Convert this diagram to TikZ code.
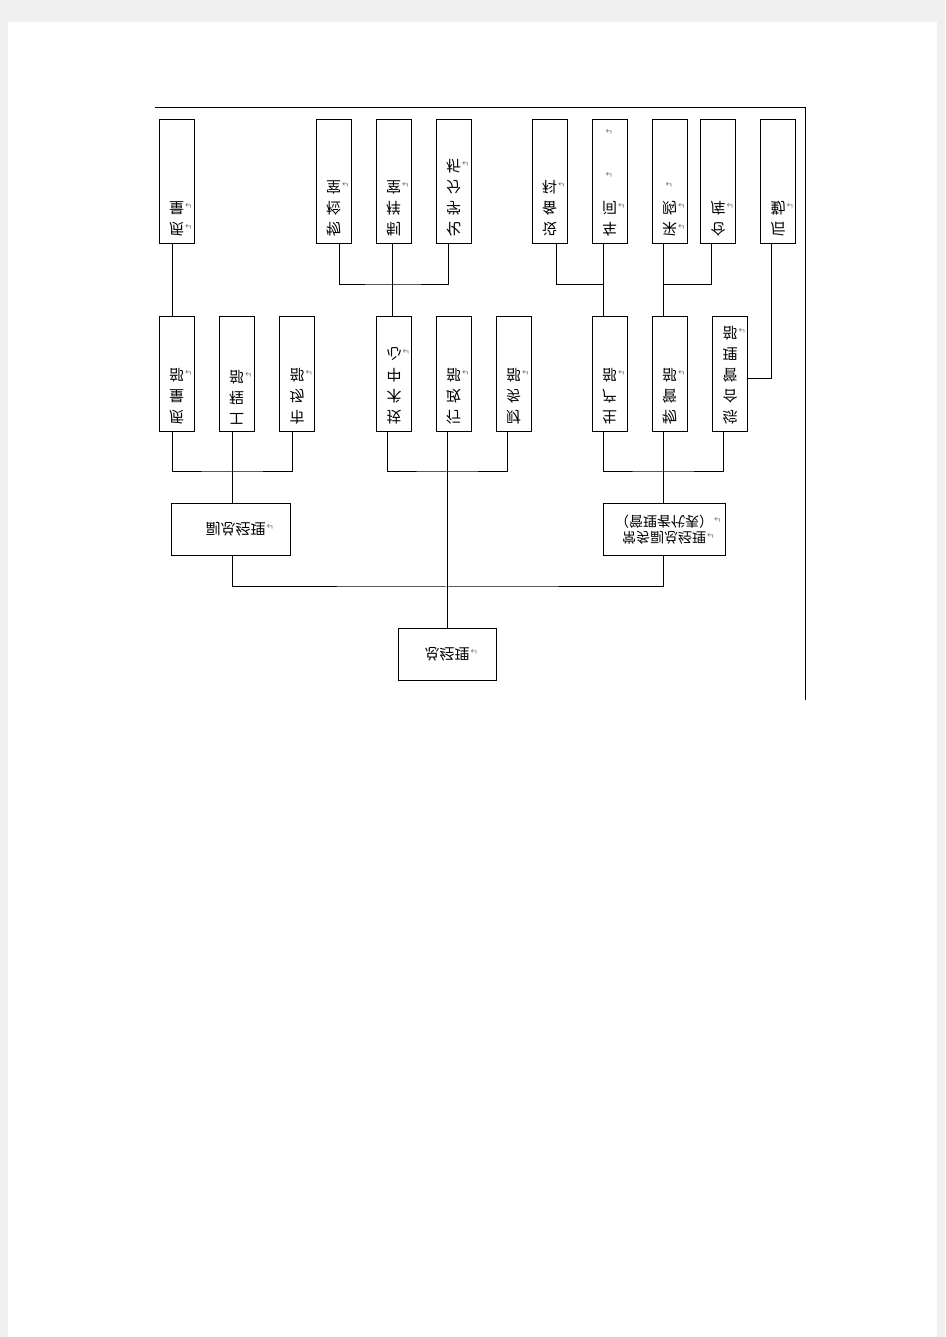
\documentclass[tikz,border=0pt]{standalone}
\usepackage{fontspec}
\newfontfamily\cjk{Noto Sans CJK SC}
\newfontfamily\symf{DejaVu Sans}

% paragraph marks and stacked text
\newcommand{\ret}{\rlap{\hspace{1pt}{\color{black!50}\symf\fontsize{9}{9}\selectfont ↵}}}
\newcommand{\eret}{\makebox[0pt]{\color{black!50}\symf\fontsize{9}{9}\selectfont ↵}}
\newcommand{\vcol}[2]{\parbox[c][#1][t]{35pt}{\centering\vspace*{8pt}#2}}

\tikzset{
  org/.style={draw, line width=1pt, inner sep=0pt, font=\cjk\fontsize{15}{21}\selectfont},
  leaf/.style={org, minimum width=35pt, minimum height=124pt},
  dept/.style={org, minimum width=35pt, minimum height=115pt},
  head/.style={org, minimum height=52pt, align=center},
  link/.style={line width=1pt}
}

\begin{document}
\begin{tikzpicture}[x=1pt, y=-1pt, yscale=-1, transform shape]
\useasboundingbox (0,0) rectangle (945,1337);
\fill[black!6] (0,0) rectangle (945,1337);
\fill[white] (8,0) rectangle (937,1315);

% page frame
\draw[link] (155,1229) -- (805,1229) -- (805,637);

% top
\node[head, minimum width=98pt] (zjl) at (447,682.5) {总经理\ret};
\node[head, minimum width=119pt] (fzjl) at (231,807.5) {\hspace*{9pt}副总经理\ret};
\node[head, minimum width=122pt, font=\cjk\fontsize{14}{15.5}\selectfont] (cwfz) at (664,807.5)
  {常务副总经理\ret\\（管理者代表）\ret};

% departments
\node[dept] (zlb) at (176.5,962.5) {\vcol{115pt}{质\\量\\部\ret}};
\node[dept] (gcb) at (236.5,962.5) {\vcol{115pt}{工\\程\\部\ret}};
\node[dept] (scb) at (297,962.5) {\vcol{115pt}{市\\场\\部\ret}};
\node[dept] (jszx) at (394,962.5) {\vcol{115pt}{技\\术\\中\\心\ret}};
\node[dept] (xzb) at (453.5,962.5) {\vcol{115pt}{行\\政\\部\ret}};
\node[dept] (cwb) at (513.5,962.5) {\vcol{115pt}{财\\务\\部\ret}};
\node[dept] (shcb) at (609.5,962.5) {\vcol{115pt}{生\\产\\部\ret}};
\node[dept] (wgb) at (669.5,962.5) {\vcol{115pt}{物\\管\\部\ret}};
\node[dept] (zhglb) at (730,962.5) {\vcol{115pt}{综\\合\\管\\理\\部\ret}};

% sections
\node[leaf] (zl) at (176.5,1155) {\vcol{124pt}{质\ret\\量\ret}};
\node[leaf] (wjs) at (333.5,1155) {\vcol{124pt}{物\\检\\室\ret}};
\node[leaf] (zys) at (393.5,1155) {\vcol{124pt}{制\\样\\室\ret}};
\node[leaf] (hxfx) at (453.5,1155) {\vcol{124pt}{化\\学\\分\\析\ret}};
\node[leaf] (sbk) at (549.5,1155) {\vcol{124pt}{设\\备\\科\ret}};
\node[leaf] (cj) at (609.5,1155) {\vcol{124pt}{车\\间\ret\\[10pt]\eret\\[22pt]\eret}};
\node[leaf] (cg) at (669.5,1155) {\vcol{124pt}{采\ret\\购\ret\\\eret}};
\node[leaf] (ck) at (718,1155) {\vcol{124pt}{仓\\库\ret}};
\node[leaf] (hq) at (778,1155) {\vcol{124pt}{后\\勤\ret}};

% bus points
\coordinate (b1) at (447,750);
\coordinate (busl) at (232,865);
\coordinate (busm) at (447,865);
\coordinate (busr) at (663,865);
\coordinate (bust) at (392,1052);
\coordinate (busp) at (603,1052);
\coordinate (busw) at (663,1052);

% connectors
\draw[link] (zjl) -- ([xshift=-6.5]xzb.north);
\draw[link] ([xshift=1]fzjl.north) |- (b1) -| ([xshift=-1]cwfz.north);
\draw[link] ([xshift=-4.5]zlb.north) |- (busl) -| ([xshift=-5]scb.north);
\draw[link] ([xshift=-4.5]gcb.north) -- ([xshift=1]fzjl.south);
\draw[link] ([xshift=-7]jszx.north) |- (busm) -| ([xshift=-6.5]cwb.north);
\draw[link] ([xshift=-6.5]shcb.north) |- (busr) -| ([xshift=-7]zhglb.north);
\draw[link] ([xshift=-6.5]wgb.north) -- ([xshift=-1]cwfz.south);

\draw[link] ([xshift=-4.5]zlb.south) -- ([xshift=-4.5]zl.north);
\draw[link] ([xshift=-2]jszx.south) -- ([xshift=-1.5]zys.north);
\draw[link] ([xshift=5.5]wjs.north) |- (bust) -| ([xshift=-5.5]hxfx.north);
\draw[link] ([xshift=-6.5]shcb.south) -- ([xshift=-6.5]cj.north);
\draw[link] ([xshift=6.5]sbk.north) |- (busp);
\draw[link] ([xshift=-6.5]wgb.south) -- ([xshift=-6.5]cg.north);
\draw[link] ([xshift=-7]ck.north) |- (busw);
\draw[link] ([yshift=4.5]zhglb.east) -| ([xshift=-7]hq.north);
\end{tikzpicture}
\end{document}
